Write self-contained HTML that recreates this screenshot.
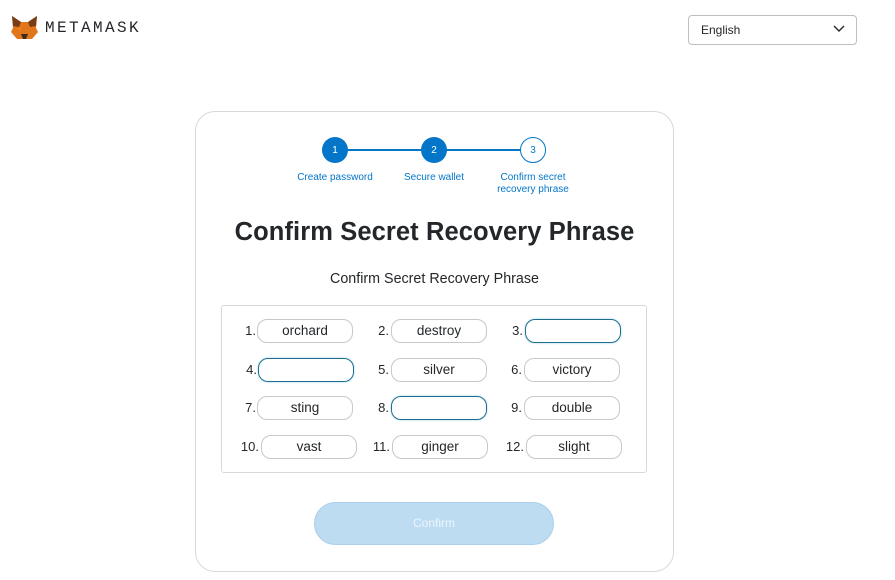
<!DOCTYPE html>
<html><head><meta charset="utf-8"><style>
*{margin:0;padding:0;box-sizing:border-box}
body{width:895px;height:580px;background:#fff;position:relative;overflow:hidden;font-family:"Liberation Sans",sans-serif;color:#24272a}
.a{position:absolute}
.pill{position:absolute;width:96px;height:24px;border:1px solid #c8c8c8;border-radius:10px;text-align:center;font-size:13.5px;line-height:22px;color:#24272a}
.pill.f{border:1.5px solid #1f6e8f;box-shadow:0 0 2px #9fd3e8}
.lb{position:absolute;width:30px;text-align:right;font-size:13px;line-height:24px;color:#24272a}
.c{position:absolute;width:26px;height:26px;border-radius:50%;text-align:center;font-size:10px;line-height:26px;color:#fff;background:#0376c9}
.sl{position:absolute;font-size:10px;color:#0376c9;text-align:center;line-height:12px}
</style></head><body>
<svg class="a" style="left:11px;top:16px" width="27" height="25" viewBox="0 0 27 25">
<polygon points="1,0 10,6 17,6 26,0 25,12 27,16 21,23 6,23 0,16 2,12" fill="#e2761b"/>
<polygon points="1,0 10,6 8,11 2,10" fill="#763d16"/>
<polygon points="26,0 17,6 19,11 25,10" fill="#763d16"/>
<polygon points="10,18 17,18 15,23 12,23" fill="#3d2b1f"/>
<polygon points="6,12 10,12 9,15" fill="#f6851b"/>
</svg>
<div class="a" style="left:45px;top:19px;font-family:'Liberation Mono',monospace;font-size:16px;letter-spacing:2.4px;color:#24272a">METAMASK</div>
<div class="a" style="left:688px;top:15px;width:169px;height:30px;border:1px solid #bbc0c5;border-radius:4px;font-size:12px;line-height:28px;padding-left:12px">English</div>
<svg class="a" style="left:833px;top:25px" width="12" height="8"><polyline points="1,1 6,6 11,1" fill="none" stroke="#24272a" stroke-width="1.4"/></svg>

<div class="a" style="left:195px;top:111px;width:479px;height:461px;border:1px solid #d6d9dc;border-radius:20px"></div>
<div class="a" style="left:335px;top:149px;width:198px;height:1.5px;background:#0376c9"></div>
<div class="c" style="left:322px;top:137px;line-height:27px">1</div>
<div class="c" style="left:421px;top:137px;line-height:27px">2</div>
<div class="c" style="left:520px;top:137px;background:#fff;border:1px solid #0376c9;color:#0376c9;line-height:25px">3</div>
<div class="sl" style="left:285px;top:172px;width:100px">Create password</div>
<div class="sl" style="left:384px;top:172px;width:100px">Secure wallet</div>
<div class="sl" style="left:483px;top:172px;width:100px">Confirm secret<br>recovery phrase</div>

<div class="a" style="left:195px;top:218px;width:479px;text-align:center;font-size:25.5px;font-weight:bold;letter-spacing:0.1px">Confirm Secret Recovery Phrase</div>
<div class="a" style="left:195px;top:271px;width:479px;text-align:center;font-size:14.3px">Confirm Secret Recovery Phrase</div>

<div class="a" style="left:221px;top:305px;width:426px;height:168px;border:1px solid #d6d9dc;border-radius:3px"></div>

<div class="lb" style="left:226px;top:319px">1.</div><div class="pill" style="left:257px;top:319px">orchard</div>
<div class="lb" style="left:359px;top:319px">2.</div><div class="pill" style="left:391px;top:319px">destroy</div>
<div class="lb" style="left:493px;top:319px">3.</div><div class="pill f" style="left:525px;top:319px"></div>

<div class="lb" style="left:227px;top:358px">4.</div><div class="pill f" style="left:258px;top:358px"></div>
<div class="lb" style="left:359px;top:358px">5.</div><div class="pill" style="left:391px;top:358px">silver</div>
<div class="lb" style="left:492px;top:358px">6.</div><div class="pill" style="left:524px;top:358px">victory</div>

<div class="lb" style="left:226px;top:396px">7.</div><div class="pill" style="left:257px;top:396px">sting</div>
<div class="lb" style="left:359px;top:396px">8.</div><div class="pill f" style="left:391px;top:396px"></div>
<div class="lb" style="left:492px;top:396px">9.</div><div class="pill" style="left:524px;top:396px">double</div>

<div class="lb" style="left:229px;top:435px">10.</div><div class="pill" style="left:261px;top:435px">vast</div>
<div class="lb" style="left:360px;top:435px">11.</div><div class="pill" style="left:392px;top:435px">ginger</div>
<div class="lb" style="left:494px;top:435px">12.</div><div class="pill" style="left:526px;top:435px">slight</div>

<div class="a" style="left:314px;top:502px;width:240px;height:43px;border-radius:22px;background:#bddcf2;border:1px solid #a9cfe9;text-align:center;line-height:41px;font-size:12px;color:#eef6fc">Confirm</div>
</body></html>
